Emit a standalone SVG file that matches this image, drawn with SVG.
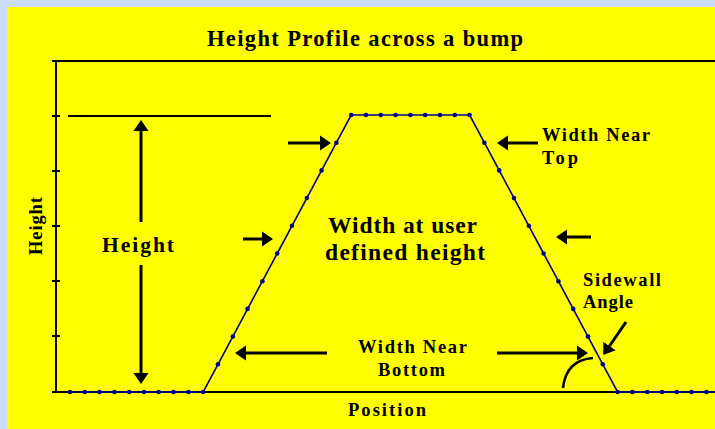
<svg xmlns="http://www.w3.org/2000/svg" width="715" height="429" viewBox="0 0 715 429">
<style>
.t{font-family:"Liberation Serif","Times New Roman",serif;font-weight:bold;fill:#000}
.ax{stroke:#000;stroke-width:2;fill:none}
.ar{stroke:#000;stroke-width:3;fill:none;marker-end:url(#ah)}
.pr{stroke:#000090;stroke-width:1.6;fill:none}
</style>
<defs>
<marker id="ah" markerUnits="userSpaceOnUse" markerWidth="12" markerHeight="16" viewBox="0 -8 12 16" refX="0" refY="0" orient="auto"><path d="M0,-7.5 L11,0 L0,7.5 z" fill="#000"/></marker>
<marker id="dot" markerUnits="userSpaceOnUse" markerWidth="6" markerHeight="6" viewBox="-3 -3 6 6" refX="0" refY="0"><circle r="2.3" fill="#000090"/></marker>
</defs>
<rect x="0" y="0" width="715" height="429" fill="#CCDDFF"/>
<rect x="7" y="7" width="708" height="422" fill="#FFFF00"/>
<g id="title"><text class="t" x="207" y="46" font-size="22.5" textLength="316" lengthAdjust="spacing">Height Profile across a bump</text></g>
<g id="axes">
<path class="ax" d="M52,61 H715 M56,61 V392 M52,392 H715"/>
<path class="ax" stroke-width="1.5" d="M52,116 H60 M52,171 H60 M52,226 H60 M52,281 H60 M52,336 H60"/>
<text class="t" font-size="18.5" transform="translate(42,255) rotate(-90)" textLength="58" lengthAdjust="spacing">Height</text>
<text class="t" x="348" y="416" font-size="18.5" textLength="78" lengthAdjust="spacing">Position</text>
</g>
<g id="profile">
<polyline class="pr" style="marker-start:url(#dot);marker-mid:url(#dot);marker-end:url(#dot)" points="70,392 84.8,392 99.6,392 114.4,392 129.2,392 144,392 158.8,392 173.6,392 188.4,392 203.2,392 218,364.3 232.8,336.6 247.6,308.9 262.4,281.2 277.2,253.5 292,225.8 306.8,198.1 321.6,170.4 336.4,142.7 351.2,115 366,115 380.8,115 395.6,115 410.4,115 425.2,115 440,115 454.8,115 469.6,115 484.4,142.7 499.2,170.4 514,198.1 528.8,225.8 543.6,253.5 558.4,281.2 573.2,308.9 588,336.6 602.8,364.3 617.6,392 632.4,392 647.2,392 662,392 676.8,392 691.6,392 706.4,392"/>
<path class="pr" d="M706.4,392 H715"/>
</g>
<g id="height-marker">
<path class="ax" stroke-width="1.8" d="M68,116 H271"/>
<text class="t" x="102" y="252" font-size="21.5" textLength="72" lengthAdjust="spacing">Height</text>
</g>
<g id="connectors">
<path class="ar" d="M141,222 V131"/>
<path class="ar" d="M141,265 V373"/>
<path class="ar" d="M288,143 H320"/>
<path class="ar" d="M538,143 H508"/>
<path class="ar" d="M243,239 H262"/>
<path class="ar" d="M591,237 H567"/>
<path class="ar" d="M327,353 H246"/>
<path class="ar" d="M497,353 H577"/>
<path class="ar" d="M626,322 L609.5,346"/>
<path d="M563,388 Q566,360 593,358" stroke="#000" stroke-width="2.5" fill="none"/>
</g>
<g id="label-top"><text class="t" font-size="18.5"><tspan x="542" y="141" textLength="108" lengthAdjust="spacing">Width Near</tspan><tspan x="542" y="164" textLength="36" lengthAdjust="spacing">Top</tspan></text></g>
<g id="label-user"><text class="t" font-size="23.5"><tspan x="328" y="233" textLength="149" lengthAdjust="spacing">Width at user</tspan><tspan x="325" y="260" textLength="160" lengthAdjust="spacing">defined height</tspan></text></g>
<g id="label-bottom"><text class="t" font-size="18.5"><tspan x="358" y="353" textLength="109" lengthAdjust="spacing">Width Near</tspan><tspan x="378" y="376" textLength="67" lengthAdjust="spacing">Bottom</tspan></text></g>
<g id="label-angle"><text class="t" font-size="18.5"><tspan x="583" y="286" textLength="78" lengthAdjust="spacing">Sidewall</tspan><tspan x="583" y="308" textLength="50" lengthAdjust="spacing">Angle</tspan></text></g>
</svg>
